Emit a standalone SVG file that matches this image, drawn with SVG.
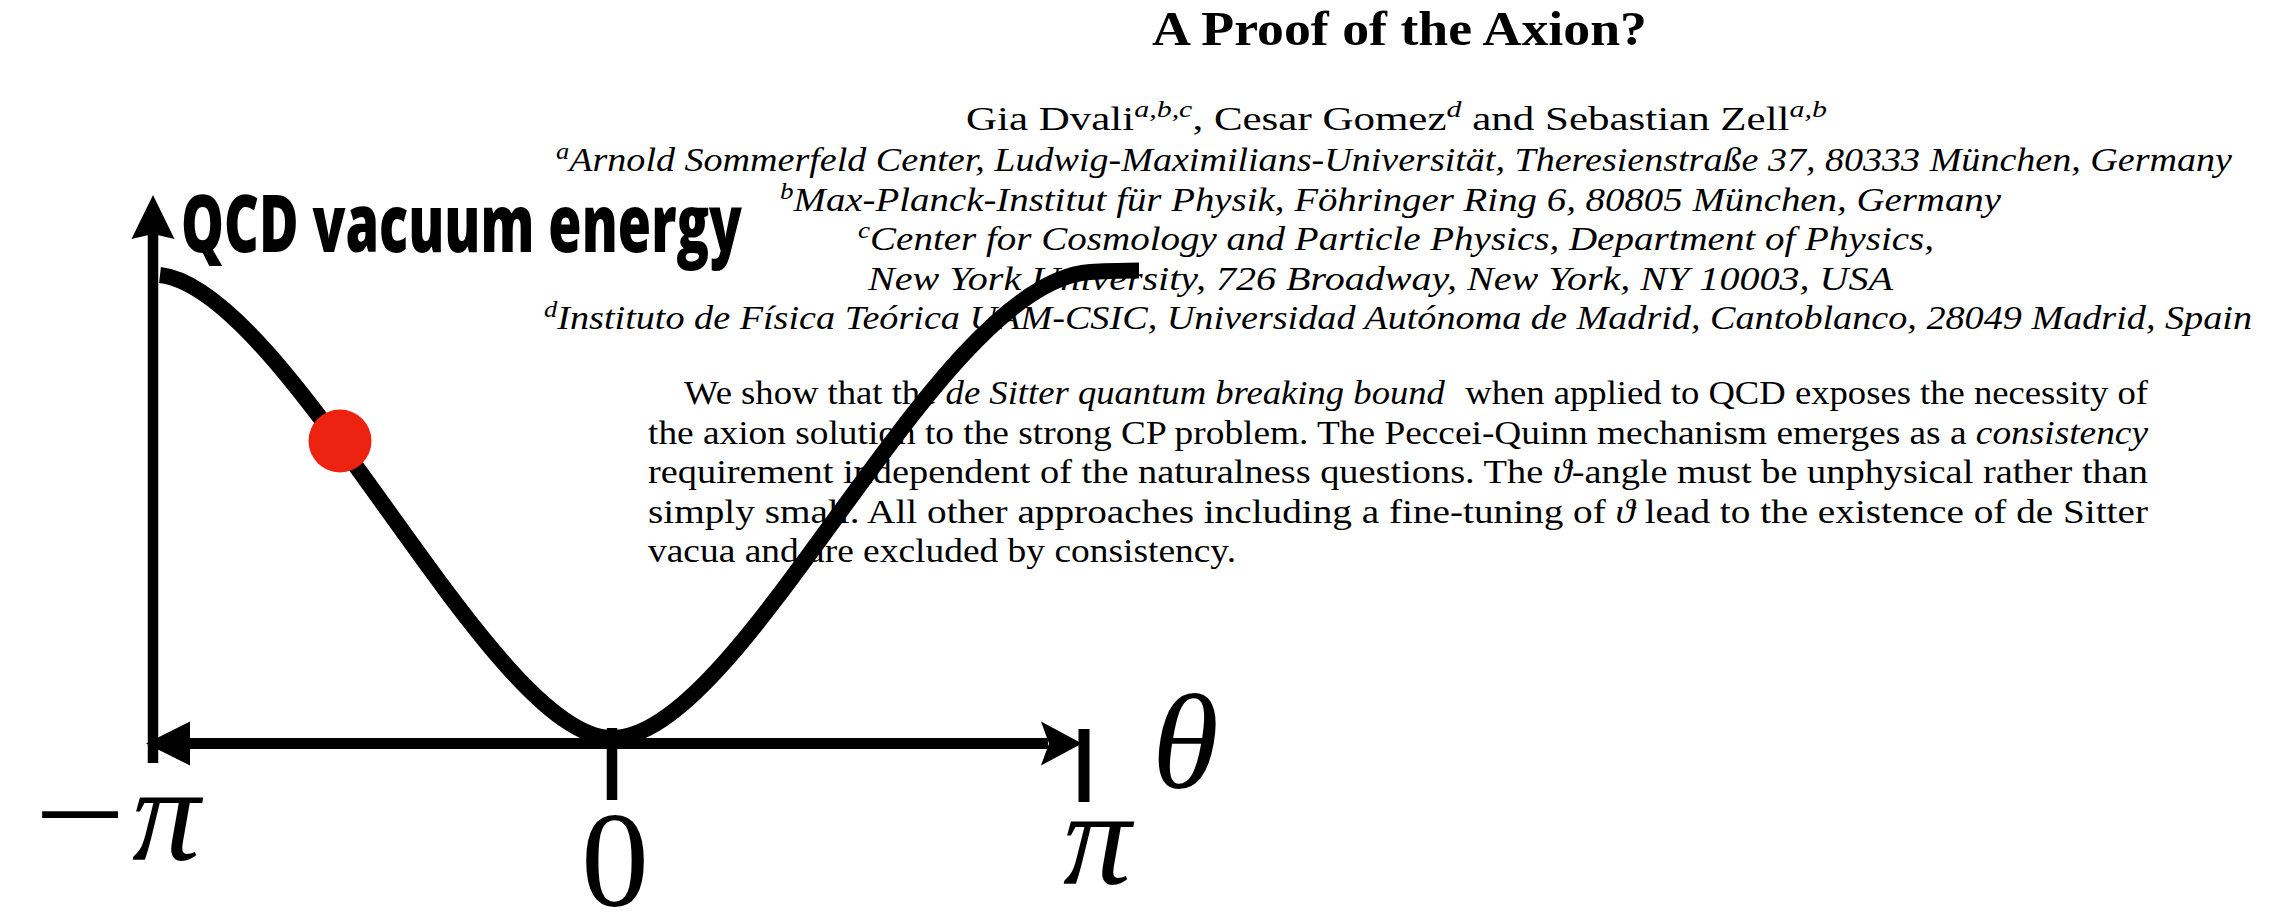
<svg xmlns="http://www.w3.org/2000/svg" width="2295" height="914" viewBox="0 0 2295 914">
<style>
.serif{font-family:"Liberation Serif","DejaVu Serif",serif;fill:#000}
.it{font-style:italic}
.body{font-size:33px}
.sup{font-size:23px;font-style:italic}
.ttl{font-size:48px;font-weight:bold}
.big{font-family:"Liberation Serif","DejaVu Serif",serif;font-size:136px;fill:#000}
.lbl{font-family:"Open Sans","Liberation Sans",sans-serif;font-weight:800;font-size:80px;fill:#000}
.ax{stroke:#000;fill:none}
.head{fill:#000;stroke:none}
</style>
<rect x="0" y="0" width="2295" height="914" fill="#fff"/>

<g id="title">
<text class="serif ttl" x="1152" y="45" textLength="495" lengthAdjust="spacingAndGlyphs">A Proof of the Axion?</text>
</g>

<g id="authors">
<text class="serif body" x="966" y="130" textLength="861" lengthAdjust="spacingAndGlyphs">Gia Dvali<tspan class="sup" dy="-13">a,b,c</tspan><tspan dy="13">, Cesar Gomez</tspan><tspan class="sup" dy="-13">d</tspan><tspan dy="13"> and Sebastian Zell</tspan><tspan class="sup" dy="-13">a,b</tspan></text>
</g>

<g id="affiliations">
<text class="serif body it" x="556" y="171" textLength="1676" lengthAdjust="spacingAndGlyphs"><tspan class="sup" dy="-12">a</tspan><tspan dy="12">Arnold Sommerfeld Center, Ludwig-Maximilians-Universität, Theresienstraße 37, 80333 München, Germany</tspan></text>
<text class="serif body it" x="780" y="210.5" textLength="1221" lengthAdjust="spacingAndGlyphs"><tspan class="sup" dy="-12">b</tspan><tspan dy="12">Max-Planck-Institut für Physik, Föhringer Ring 6, 80805 München, Germany</tspan></text>
<text class="serif body it" x="858" y="250" textLength="1076" lengthAdjust="spacingAndGlyphs"><tspan class="sup" dy="-12">c</tspan><tspan dy="12">Center for Cosmology and Particle Physics, Department of Physics,</tspan></text>
<text class="serif body it" x="868" y="289.5" textLength="1025" lengthAdjust="spacingAndGlyphs">New York University, 726 Broadway, New York, NY 10003, USA</text>
<text class="serif body it" x="544" y="329" textLength="1708" lengthAdjust="spacingAndGlyphs"><tspan class="sup" dy="-12">d</tspan><tspan dy="12">Instituto de Física Teórica UAM-CSIC, Universidad Autónoma de Madrid, Cantoblanco, 28049 Madrid, Spain</tspan></text>
</g>

<g id="abstract">
<text class="serif body" x="684" y="404" textLength="1464" lengthAdjust="spacingAndGlyphs">We show that the <tspan class="it">de Sitter quantum breaking bound</tspan><tspan dx="10"> when applied to QCD exposes the necessity of</tspan></text>
<text class="serif body" x="648" y="443.5" textLength="1500" lengthAdjust="spacingAndGlyphs">the axion solution to the strong CP problem. The Peccei-Quinn mechanism emerges as a <tspan class="it">consistency</tspan></text>
<text class="serif body" x="648" y="483" textLength="1500" lengthAdjust="spacingAndGlyphs">requirement independent of the naturalness questions. The <tspan class="it">ϑ</tspan>-angle must be unphysical rather than</text>
<text class="serif body" x="648" y="522.5" textLength="1500" lengthAdjust="spacingAndGlyphs">simply small. All other approaches including a fine-tuning of <tspan class="it">ϑ</tspan> lead to the existence of de Sitter</text>
<text class="serif body" x="648" y="562" textLength="588" lengthAdjust="spacingAndGlyphs">vacua and are excluded by consistency.</text>
</g>

<g id="y-label">
<text class="lbl" x="181" y="252" textLength="561" lengthAdjust="spacingAndGlyphs">QCD vacuum energy</text>
</g>

<g id="tick-labels">
<text class="big" x="34" y="860" textLength="92" lengthAdjust="spacingAndGlyphs">−</text>
<text class="big it" x="132" y="860">π</text>
<text class="big" x="615" y="906" font-size="134" text-anchor="middle">0</text>
<text class="big it" x="1063" y="884">π</text>
<text class="big it" x="1152" y="788">θ</text>
</g>

<g id="connectors">
<line class="ax" x1="153" y1="763" x2="153" y2="232" stroke-width="10.5"/>
<polygon class="head" points="153,195 174.5,239 153,234 131.5,239"/>
<line class="ax" x1="185" y1="743.5" x2="1048" y2="743.5" stroke-width="11"/>
<polygon class="head" points="146,743.5 190,721.5 190,765.5"/>
<polygon class="head" points="1082,743.5 1041,721.5 1049,743.5 1041,765.5"/>
<line class="ax" x1="612" y1="728" x2="612" y2="800" stroke-width="10.5"/>
<line class="ax" x1="1084" y1="729" x2="1084" y2="802" stroke-width="11"/>
</g>

<g id="curve">
<path class="ax" d="M160,275 C290,290 490,738 612,738 C744,738 935,282 1090,272 C1110,271 1125,270.5 1139,270.5" stroke-width="16"/>
</g>

<g id="state-dot">
<circle cx="340" cy="441" r="31.5" fill="#ee2211"/>
</g>
</svg>
